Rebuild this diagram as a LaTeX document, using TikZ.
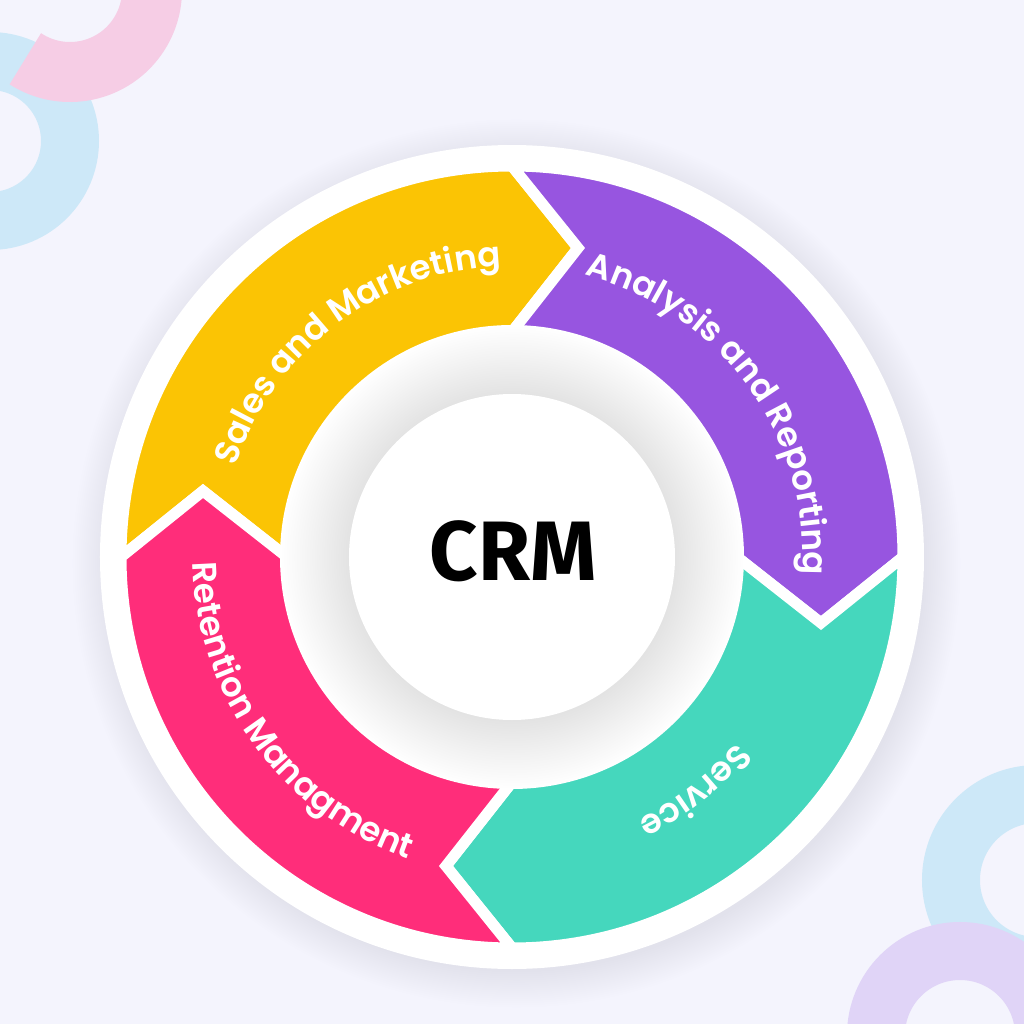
\documentclass[tikz,border=0pt]{standalone}
\usepackage{fontspec}
\setmainfont{Poppins}
\newfontfamily\labelfam{Poppins SemiBold}
\newfontfamily\crmfont{Fira Sans}
\usepackage{xcolor}
\usetikzlibrary{calc, decorations.text}

\definecolor{bgcol}{HTML}{F4F4FD}
\definecolor{salesyellow}{HTML}{FBC404}
\definecolor{analysispurple}{HTML}{9755E0}
\definecolor{serviceteal}{HTML}{45D7BD}
\definecolor{retentionpink}{HTML}{FF2D7A}
\definecolor{decoblue}{HTML}{CDE8F8}
\definecolor{decopink}{HTML}{F6CDE5}
\definecolor{decolilac}{HTML}{E0D4F7}
\definecolor{shadowgray}{HTML}{E2E2EC}
\definecolor{halogray}{HTML}{E3E3E3}

\pgfdeclareradialshading{discshadow}{\pgfpoint{0bp}{0bp}}{color(0bp)=(shadowgray); color(22.9bp)=(shadowgray); color(25bp)=(bgcol); color(50bp)=(bgcol)}
\pgfdeclareradialshading{crmhalo}{\pgfpoint{0bp}{0bp}}{color(0bp)=(halogray); color(17.6bp)=(halogray); color(21.5bp)=(white!95!black); color(25bp)=(white); color(50bp)=(white)}

\newcommand\rOut{3.91}
\newcommand\rIn{2.25}
\newcommand\rMid{3.09}
\newcommand\tipLen{0.66}
\newcommand\labelfont{\labelfam\fontsize{9.7}{12}\selectfont}

\begin{document}
\begin{tikzpicture}[
    decoring/.style={line width=0.58cm},
    segment/.style={draw=white, line width=0.11cm, line join=miter},
    segtext/.style={decorate},
    crmlabel/.style={font=\crmfont\bfseries\fontsize{24}{28}\selectfont, inner sep=0pt, text depth=0pt}
]
\useasboundingbox (-5.12,-4.67) rectangle (5.12,5.57);
\clip (-5.12,-4.67) rectangle (5.12,5.57);
\fill[bgcol] (-5.12,-4.67) rectangle (5.12,5.57);

% Corner rings
\coordinate (pinkc) at (-4.42,5.67);
\draw[decoring, decoblue] (-5.22,4.16) circle (0.80);
\draw[decoring, decopink, line width=0.60cm] ($(pinkc)+(237:0.82)$) arc[start angle=237, end angle=450, radius=0.82];
\draw[decoring, decoblue] (5.25,-3.23) circle (0.86);
\draw[decoring, decolilac] (4.48,-4.78) circle (0.84);

% White disc with soft shadow
\shade[shading=discshadow] (0.04,-0.06) circle (4.45);
\fill[white] (0,0) circle (4.12);

% Cycle segments
\foreach \a/\col in {180/salesyellow, 90/analysispurple, 0/serviceteal, 270/retentionpink}{
  \filldraw[segment, fill=\col]
    (\a:\rOut) arc[start angle=\a, end angle=\a-90, radius=\rOut]
    -- ($(\a-90:\rMid)+(\a-180:\tipLen)$) -- (\a-90:\rIn)
    arc[start angle=\a-90, end angle=\a, radius=\rIn]
    -- ($(\a:\rMid)+(\a-90:\tipLen)$) -- cycle;
}

% Centre
\shade[shading=crmhalo] (0,0) circle (2.32);
\fill[white] (0,0) circle (1.63);
\node[crmlabel] (crm) at (0.01,0.06) {CRM};

% Labels
\path[segtext, decoration={text along path, text align=center, text color=white,
    text={|\labelfont|Sales and Marketing}}]
  (167:2.91) arc[start angle=167, end angle=87, radius=2.91];
\path[segtext, decoration={text along path, text align=center, text color=white,
    text={|\labelfont|Analysis and Reporting}}]
  (78:2.91) arc[start angle=78, end angle=-6, radius=2.91];
\path[segtext, decoration={text along path, text align=center, text color=white,
    text={|\labelfont|Service}}]
  (-22:2.91) arc[start angle=-22, end angle=-82, radius=2.91];
\path[segtext, decoration={text along path, text align=center, text color=white,
    text={|\labelfont|Retention Managment}}]
  (174:3.19) arc[start angle=174, end angle=258, radius=3.19];

\end{tikzpicture}
\end{document}
